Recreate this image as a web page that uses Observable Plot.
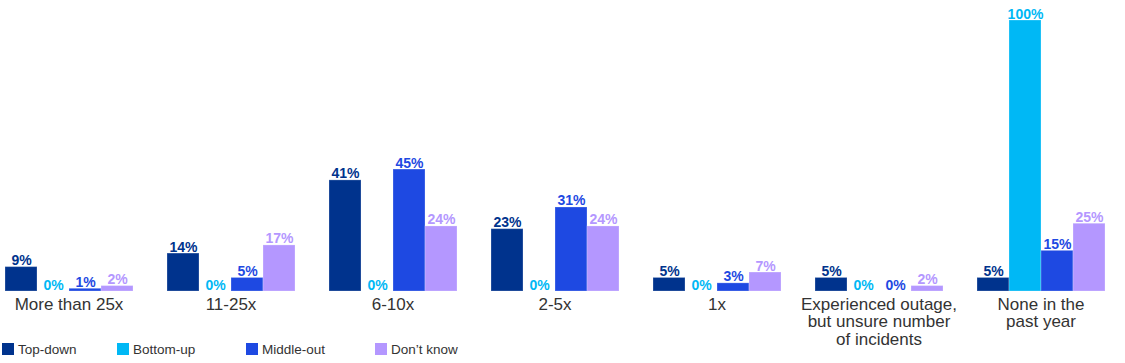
<!DOCTYPE html>
<html>
<head>
<meta charset="utf-8">
<script src="https://cdn.jsdelivr.net/npm/d3@7"></script>
<script src="https://cdn.jsdelivr.net/npm/@observablehq/plot@0.6"></script>
<style>
  body { margin: 0; background: #fff; font-family: "Liberation Sans", Arial, sans-serif; position: relative; }
  #legend { position: absolute; left: 0; top: 341px; display: flex; height: 16px; align-items: center; font-size: 13.5px; color: #333; }
  .item { display: flex; align-items: center; }
  .sw { width: 12px; height: 12px; margin-right: 4px; }
</style>
</head>
<body>
<div id="chart"></div>
<div id="legend"></div>
<script>
const categories = ["More than 25x", "11-25x", "6-10x", "2-5x", "1x", "Experienced outage,\nbut unsure number\nof incidents", "None in the\npast year"];
const seriesNames = ["Top-down", "Bottom-up", "Middle-out", "Don\u2019t know"];
const seriesColors = ["#00338D", "#00B8F5", "#1E49E2", "#B497FF"];
const topDown   = [9, 14, 41, 23, 5, 5, 5];
const bottomUp  = [0, 0, 0, 0, 0, 0, 100];
const middleOut = [1, 5, 45, 31, 3, 0, 15];
const dontKnow  = [2, 17, 24, 24, 7, 2, 25];

const seriesValues = [topDown, bottomUp, middleOut, dontKnow];
const data = [];
categories.forEach((c, i) => {
  seriesNames.forEach((s, j) => data.push({category: c, series: s, value: seriesValues[j][i]}));
});

const chart = Plot.plot({
  width: 1125,
  height: 363,
  marginLeft: 1,
  marginRight: 16,
  marginTop: 20,
  marginBottom: 72,
  style: {fontFamily: "'Liberation Sans', Arial, sans-serif", background: "#fff"},
  fx: {domain: categories, paddingInner: 0.19, paddingOuter: 0, label: null},
  x: {domain: seriesNames, padding: 0, axis: null},
  y: {domain: [0, 100], axis: null},
  color: {domain: seriesNames, range: seriesColors},
  marks: [
    Plot.barY(data, {fx: "category", x: "series", y: "value", fill: "series", inset: 0, stroke: "#ffffff", strokeOpacity: 0.25, strokeWidth: 1}),
    Plot.text(data, {fx: "category", x: "series", y: "value", text: d => d.value + "%", fill: "series",
      lineAnchor: "bottom", dy: -2, fontSize: 14, fontWeight: "bold"}),
    Plot.axisFx({anchor: "bottom", tickSize: 0, tickPadding: 6, fontSize: 17, fill: "#333", lineHeight: 1.03, label: null})
  ]
});
document.getElementById("chart").appendChild(chart);

const legend = document.getElementById("legend");
const widths = [115, 129, 129, 129];
seriesNames.forEach((s, j) => {
  const it = document.createElement("div");
  it.className = "item";
  it.style.width = widths[j] + "px";
  if (j === 0) it.style.marginLeft = "2px";
  const sw = document.createElement("div");
  sw.className = "sw";
  sw.style.background = seriesColors[j];
  const t = document.createElement("span");
  t.textContent = s;
  it.appendChild(sw); it.appendChild(t);
  legend.appendChild(it);
});
</script>
</body>
</html>
